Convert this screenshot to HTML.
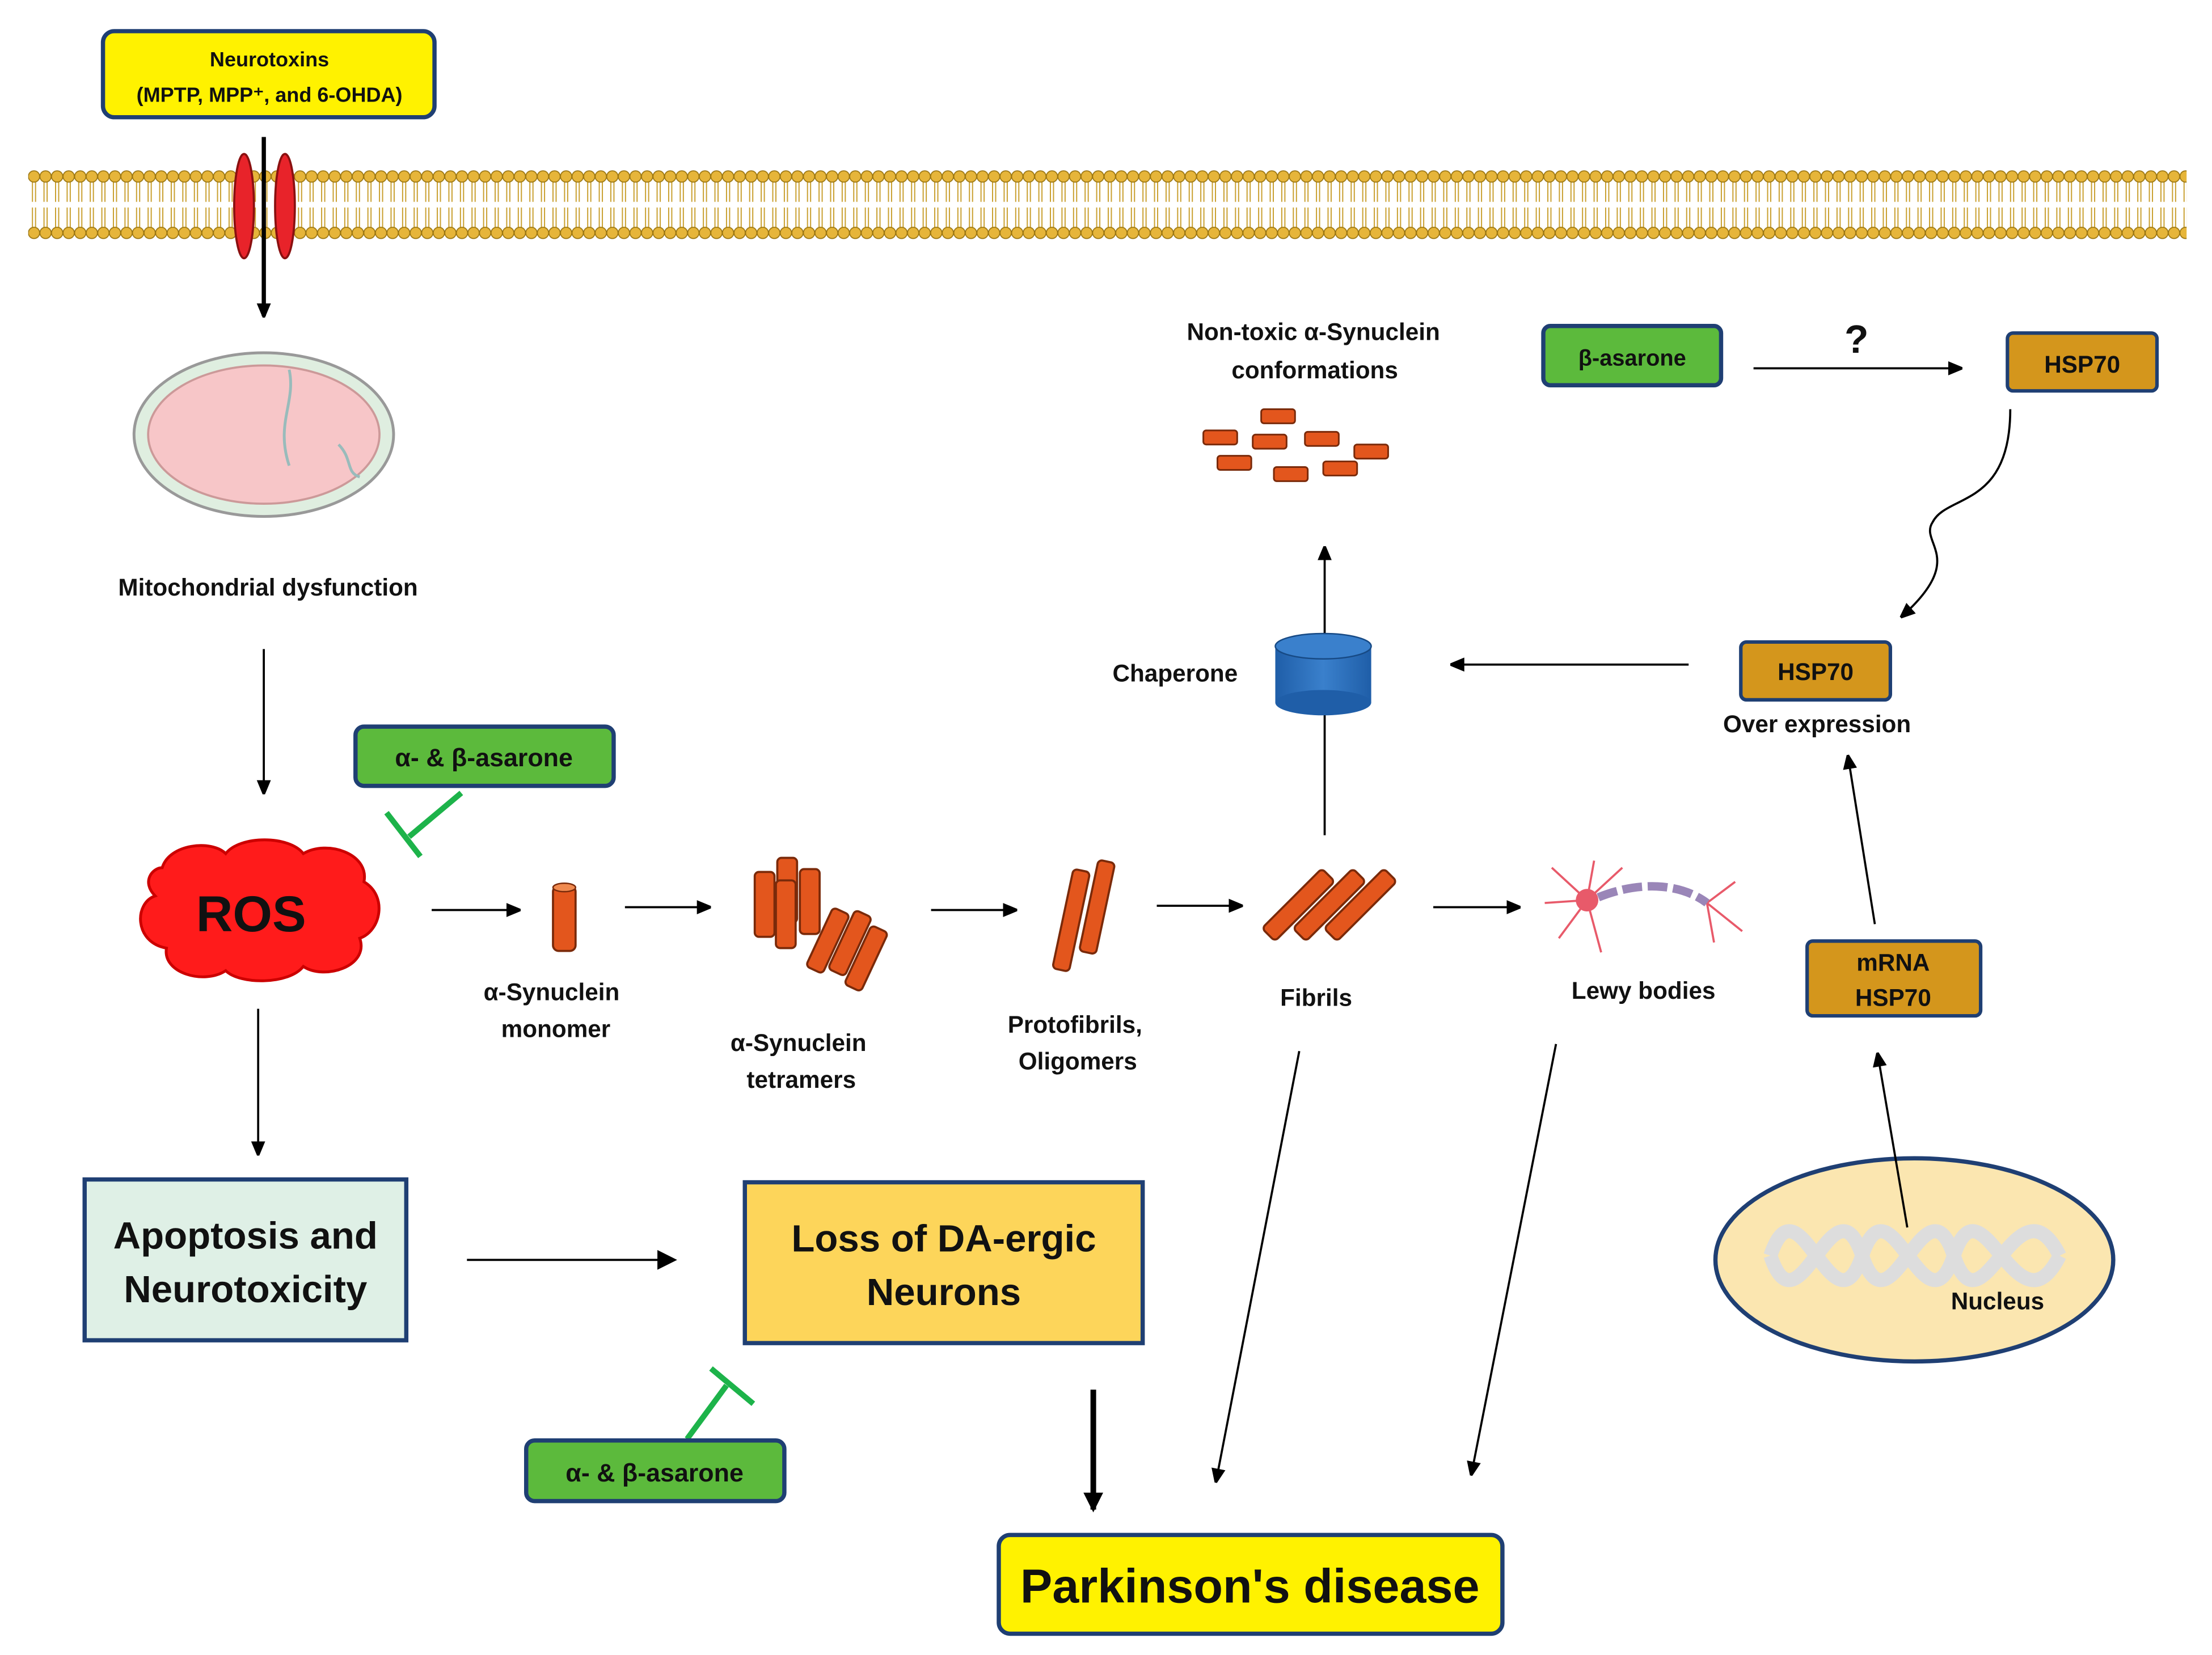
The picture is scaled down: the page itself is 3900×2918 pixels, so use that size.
<!DOCTYPE html>
<html><head><meta charset="utf-8"><style>
html,body{margin:0;padding:0;background:#fff}
svg{display:block}
text{font-family:"Liberation Sans",sans-serif;font-weight:bold;fill:#111}
</style></head><body>
<svg width="3900" height="2918" viewBox="0 0 1568 1173" xmlns="http://www.w3.org/2000/svg">
<defs>
<marker id="ah" markerWidth="10" markerHeight="10" refX="9" refY="5" orient="auto" markerUnits="userSpaceOnUse"><path d="M0,0 L12,5 L0,10 z" fill="#000"/></marker>
<marker id="ah2" markerWidth="14" markerHeight="14" refX="12" refY="7" orient="auto" markerUnits="userSpaceOnUse"><path d="M0,0 L14,7 L0,14 z" fill="#000"/></marker>
<pattern id="lip" x="20" y="0" width="8.2" height="200" patternUnits="userSpaceOnUse">
<line x1="3" y1="127" x2="3" y2="143" stroke="#c9a030" stroke-width="0.8"/>
<line x1="5.2" y1="127" x2="5.2" y2="143" stroke="#c9a030" stroke-width="0.8"/>
<line x1="3" y1="147" x2="3" y2="162" stroke="#c9a030" stroke-width="0.8"/>
<line x1="5.2" y1="147" x2="5.2" y2="162" stroke="#c9a030" stroke-width="0.8"/>
<circle cx="4.1" cy="125" r="4" fill="#e6b53a" stroke="#9a7510" stroke-width="0.7"/>
<circle cx="4.1" cy="165" r="4" fill="#e6b53a" stroke="#9a7510" stroke-width="0.7"/>
</pattern>
<linearGradient id="cyl" x1="0" x2="1"><stop offset="0" stop-color="#1f5ea8"/><stop offset="0.5" stop-color="#3a80cc"/><stop offset="1" stop-color="#1f5ea8"/></linearGradient>
</defs>
<rect width="1568" height="1173" fill="#fff"/>
<!-- membrane -->
<rect x="20" y="118" width="1530" height="55" fill="url(#lip)"/>
<ellipse cx="173" cy="146" rx="7" ry="37" fill="#e8232a" stroke="#8a1010" stroke-width="1.5"/>
<ellipse cx="202" cy="146" rx="7" ry="37" fill="#e8232a" stroke="#8a1010" stroke-width="1.5"/>
<!-- neurotoxins -->
<rect x="73" y="22" width="235" height="61" rx="8" fill="#fff200" stroke="#1f3f73" stroke-width="3"/>
<text x="191" y="47" font-size="14.5" text-anchor="middle">Neurotoxins</text>
<text x="191" y="72" font-size="14.5" text-anchor="middle">(MPTP, MPP⁺, and 6-OHDA)</text>
<line x1="187" y1="97" x2="187" y2="224" stroke="#000" stroke-width="3" marker-end="url(#ah)"/>
<!-- mitochondria -->
<ellipse cx="187" cy="308" rx="92" ry="58" fill="#dfeee0" stroke="#999" stroke-width="2"/>
<ellipse cx="187" cy="308" rx="82" ry="49" fill="#f7c6c8" stroke="#c99" stroke-width="1.5"/>
<path d="M205,262 C210,285 195,300 205,330 M240,315 C250,325 245,335 255,338" stroke="#9bb" stroke-width="2" fill="none"/>
<text x="190" y="422" font-size="17" text-anchor="middle">Mitochondrial dysfunction</text>
<line x1="187" y1="460" x2="187" y2="562" stroke="#000" stroke-width="1.5" marker-end="url(#ah)"/>
<!-- asarone top -->
<rect x="252" y="515" width="183" height="42" rx="6" fill="#5cba3c" stroke="#1f3f73" stroke-width="3"/>
<text x="343" y="543" font-size="18" text-anchor="middle">α- &amp; β-asarone</text>
<line x1="327" y1="562" x2="290" y2="593" stroke="#1db34a" stroke-width="4"/>
<line x1="274" y1="576" x2="298" y2="607" stroke="#1db34a" stroke-width="4"/>
<!-- ROS -->
<path d="M115,615 C120,598 150,595 160,605 C170,592 205,592 215,605 C232,595 262,605 258,625 C275,635 270,660 255,665 C262,685 230,695 215,685 C205,698 170,698 160,688 C145,698 115,690 118,672 C95,668 95,640 110,635 C100,625 108,615 115,615 Z" fill="#ff1b1b" stroke="#c00" stroke-width="2"/>
<text x="178" y="660" font-size="36" text-anchor="middle" fill="#111">ROS</text>
<line x1="183" y1="715" x2="183" y2="818" stroke="#000" stroke-width="1.5" marker-end="url(#ah)"/>
<!-- arrows chain -->
<g stroke="#000" stroke-width="1.5" marker-end="url(#ah)">
<line x1="306" y1="645" x2="368" y2="645"/>
<line x1="443" y1="643" x2="503" y2="643"/>
<line x1="660" y1="645" x2="720" y2="645"/>
<line x1="820" y1="642" x2="880" y2="642"/>
<line x1="1016" y1="643" x2="1077" y2="643"/>
</g>
<!-- monomer -->
<rect x="392" y="628" width="16" height="46" rx="4" fill="#e3561d" stroke="#7a2a0a" stroke-width="1.5"/>
<ellipse cx="400" cy="629" rx="8" ry="3" fill="#f08a50" stroke="#7a2a0a"/>
<text x="391" y="709" font-size="17" text-anchor="middle">α-Synuclein</text>
<text x="394" y="735" font-size="17" text-anchor="middle">monomer</text>
<!-- tetramers -->
<g fill="#e3561d" stroke="#7a2a0a" stroke-width="1.5">
<rect x="535" y="618" width="14" height="46" rx="3"/><rect x="551" y="608" width="14" height="46" rx="3"/><rect x="567" y="616" width="14" height="46" rx="3"/><rect x="550" y="624" width="14" height="48" rx="3"/>
<g transform="rotate(25 600 675)"><rect x="578" y="650" width="13" height="46" rx="3"/><rect x="593" y="645" width="13" height="46" rx="3"/><rect x="608" y="650" width="13" height="46" rx="3"/></g>
</g>
<text x="566" y="745" font-size="17" text-anchor="middle">α-Synuclein</text>
<text x="568" y="771" font-size="17" text-anchor="middle">tetramers</text>
<!-- protofibrils -->
<g fill="#e3561d" stroke="#7a2a0a" stroke-width="1.5" transform="rotate(12 768 650)">
<rect x="754" y="618" width="12" height="72" rx="3"/><rect x="770" y="608" width="12" height="66" rx="3"/>
</g>
<text x="762" y="732" font-size="17" text-anchor="middle">Protofibrils,</text>
<text x="764" y="758" font-size="17" text-anchor="middle">Oligomers</text>
<!-- fibrils -->
<g fill="#e3561d" stroke="#7a2a0a" stroke-width="1.5">
<rect x="890" y="635" width="60" height="13" rx="3" transform="rotate(-45 920 641)"/>
<rect x="912" y="635" width="60" height="13" rx="3" transform="rotate(-45 942 641)"/>
<rect x="934" y="635" width="60" height="13" rx="3" transform="rotate(-45 964 641)"/>
</g>
<text x="933" y="713" font-size="17" text-anchor="middle">Fibrils</text>
<!-- lewy -->
<g stroke="#e85a6a" stroke-width="1.5" fill="none">
<path d="M1125,638 L1100,615 M1125,638 L1095,640 M1125,638 L1105,665 M1125,638 L1130,610 M1125,638 L1135,675 M1125,638 L1150,615 M1210,640 L1235,660 M1210,640 L1230,625 M1210,640 L1215,668"/>
</g>
<circle cx="1125" cy="638" r="8" fill="#e85a6a"/>
<path d="M1133,636 C1160,625 1190,625 1210,640" stroke="#9a86b8" stroke-width="6" fill="none" stroke-dasharray="14 4"/>
<text x="1165" y="708" font-size="17" text-anchor="middle">Lewy bodies</text>
<!-- lines to PD -->
<line x1="921" y1="745" x2="862" y2="1050" stroke="#000" stroke-width="1.5" marker-end="url(#ah)"/>
<line x1="1103" y1="740" x2="1043" y2="1045" stroke="#000" stroke-width="1.5" marker-end="url(#ah)"/>
<!-- chaperone -->
<line x1="939" y1="592" x2="939" y2="388" stroke="#000" stroke-width="1.5" marker-end="url(#ah)"/>
<rect x="904" y="458" width="68" height="40" fill="url(#cyl)"/>
<ellipse cx="938" cy="498" rx="34" ry="9" fill="#1f5ea8"/>
<ellipse cx="938" cy="458" rx="34" ry="9" fill="#3a80cc" stroke="#174a85"/>
<text x="833" y="483" font-size="17" text-anchor="middle">Chaperone</text>
<text x="931" y="241" font-size="17" text-anchor="middle">Non-toxic α-Synuclein</text>
<text x="932" y="268" font-size="17" text-anchor="middle">conformations</text>
<g fill="#e3561d" stroke="#7a2a0a" stroke-width="1.2">
<rect x="894" y="290" width="24" height="10" rx="2"/><rect x="853" y="305" width="24" height="10" rx="2"/><rect x="888" y="308" width="24" height="10" rx="2"/><rect x="925" y="306" width="24" height="10" rx="2"/><rect x="960" y="315" width="24" height="10" rx="2"/><rect x="863" y="323" width="24" height="10" rx="2"/><rect x="903" y="331" width="24" height="10" rx="2"/><rect x="938" y="327" width="24" height="10" rx="2"/>
</g>
<!-- beta-asarone -->
<rect x="1094" y="231" width="126" height="42" rx="5" fill="#5cba3c" stroke="#1f3f73" stroke-width="3"/>
<text x="1157" y="259" font-size="16" text-anchor="middle">β-asarone</text>
<line x1="1243" y1="261" x2="1390" y2="261" stroke="#000" stroke-width="1.5" marker-end="url(#ah)"/>
<text x="1316" y="250" font-size="28" text-anchor="middle">?</text>
<rect x="1423" y="236" width="106" height="41" rx="4" fill="#d4961c" stroke="#1f3f73" stroke-width="2.5"/>
<text x="1476" y="264" font-size="17" text-anchor="middle">HSP70</text>
<path d="M1425,290 C1425,360 1380,350 1370,370 C1360,385 1395,395 1348,437" stroke="#000" stroke-width="1.5" fill="none" marker-end="url(#ah)"/>
<rect x="1234" y="455" width="106" height="41" rx="4" fill="#d4961c" stroke="#1f3f73" stroke-width="2.5"/>
<text x="1287" y="482" font-size="17" text-anchor="middle">HSP70</text>
<text x="1288" y="519" font-size="17" text-anchor="middle">Over expression</text>
<line x1="1197" y1="471" x2="1029" y2="471" stroke="#000" stroke-width="1.5" marker-end="url(#ah)"/>
<line x1="1329" y1="655" x2="1310" y2="536" stroke="#000" stroke-width="1.5" marker-end="url(#ah)"/>
<rect x="1281" y="667" width="123" height="53" rx="4" fill="#d4961c" stroke="#1f3f73" stroke-width="2.5"/>
<text x="1342" y="688" font-size="17" text-anchor="middle">mRNA</text>
<text x="1342" y="713" font-size="17" text-anchor="middle">HSP70</text>
<!-- nucleus -->
<ellipse cx="1357" cy="893" rx="141" ry="72" fill="#fbe6b0" stroke="#1f3f73" stroke-width="3"/>
<path d="M1255,890 C1275,830 1300,950 1320,890 C1340,830 1365,950 1385,890 C1405,830 1430,950 1460,890" stroke="#ddd" stroke-width="10" fill="none"/>
<path d="M1255,890 C1275,950 1300,830 1320,890 C1340,950 1365,830 1385,890 C1405,950 1430,830 1460,890" stroke="#ddd" stroke-width="10" fill="none"/>
<line x1="1352" y1="870" x2="1331" y2="747" stroke="#000" stroke-width="1.5" marker-end="url(#ah)"/>
<text x="1416" y="928" font-size="17" text-anchor="middle">Nucleus</text>
<!-- apoptosis -->
<rect x="60" y="836" width="228" height="114" fill="#dff0e6" stroke="#1f3f73" stroke-width="3"/>
<text x="174" y="885" font-size="27" text-anchor="middle">Apoptosis and</text>
<text x="174" y="923" font-size="27" text-anchor="middle">Neurotoxicity</text>
<line x1="331" y1="893" x2="478" y2="893" stroke="#000" stroke-width="1.5" marker-end="url(#ah2)"/>
<rect x="528" y="838" width="282" height="114" fill="#fdd55a" stroke="#1f3f73" stroke-width="3"/>
<text x="669" y="887" font-size="27" text-anchor="middle">Loss of DA-ergic</text>
<text x="669" y="925" font-size="27" text-anchor="middle">Neurons</text>
<line x1="487" y1="1020" x2="515" y2="982" stroke="#1db34a" stroke-width="4"/>
<line x1="504" y1="970" x2="534" y2="995" stroke="#1db34a" stroke-width="4"/>
<rect x="373" y="1021" width="183" height="43" rx="6" fill="#5cba3c" stroke="#1f3f73" stroke-width="3"/>
<text x="464" y="1050" font-size="18" text-anchor="middle">α- &amp; β-asarone</text>
<line x1="775" y1="985" x2="775" y2="1070" stroke="#000" stroke-width="4" marker-end="url(#ah2)"/>
<rect x="708" y="1088" width="357" height="70" rx="8" fill="#fff200" stroke="#1f3f73" stroke-width="3"/>
<text x="886" y="1136" font-size="34" text-anchor="middle">Parkinson's disease</text>
</svg>
</body></html>
